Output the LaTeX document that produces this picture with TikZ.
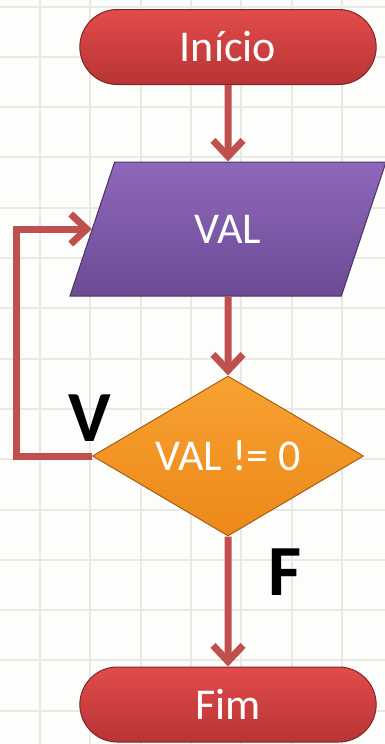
\documentclass[tikz,border=0pt]{standalone}
\usepackage{fontspec}
\setmainfont{Carlito}
\usetikzlibrary{shapes.geometric,shapes.misc,arrows.meta,calc}
\definecolor{flowred}{HTML}{C0504D}
\definecolor{termtop}{HTML}{E24B4B}
\definecolor{termbot}{HTML}{B83434}
\definecolor{iotop}{HTML}{8E68BA}
\definecolor{iobot}{HTML}{6C4B95}
\definecolor{dectop}{HTML}{F8A232}
\definecolor{decbot}{HTML}{EC8818}
\definecolor{gridgray}{HTML}{E8E8E5}
\definecolor{paper}{HTML}{FDFDFB}
\begin{document}
\begin{tikzpicture}[x=1pt, y=1pt, >={Straight Barb[length=16pt,width=30pt]},
  terminal/.style={rounded rectangle, draw=termbot!70!black, line width=1pt, top color=termtop, bottom color=termbot, minimum width=303pt, minimum height=75pt, text=white, font=\fontsize{44}{50}\selectfont},
  flow/.style={->, draw=flowred, line width=7pt, miter limit=10},
  mark label/.style={font=\fontsize{72}{80}\selectfont\bfseries, text=black}]
  % Background
  \fill[paper] (0,0) rectangle (385,-744);
  \useasboundingbox (0,0) rectangle (385,-744);
  \foreach \gx in {0,...,6}
    \draw[gridgray, line width=2pt] ({40+50.3*\gx},0) -- ++(0,-744);
  \foreach \gy in {0,...,14}
    \draw[gridgray, line width=2pt] (0,{-6.5-50.3*\gy}) -- ++(385,0);
  % Nodes
  \node[terminal](ini) at (228,-47) {Início};
  \node[trapezium, trapezium left angle=65, trapezium right angle=115, trapezium stretches=true, minimum width=317pt, minimum height=134pt, inner sep=0pt, draw=iobot!70!black, line width=1pt, top color=iotop, bottom color=iobot, text=white, font=\fontsize{44}{50}\selectfont](val) at (228,-229) {VAL};
  \node[diamond, aspect=1.7, minimum width=271pt, minimum height=160pt, inner sep=0pt, draw=decbot!70!black, line width=1pt, top color=dectop, bottom color=decbot, text=white, font=\fontsize{44}{50}\selectfont](dec) at (228,-456) {VAL != 0};
  \node[terminal](fim) at (228,-704.5) {Fim};
  \node[mark label](v) at (90,-418) {V};
  \node[mark label](f) at (285,-572) {F};
  % Edges
  \draw[flow](ini)--(val);
  \draw[flow](val)--(dec);
  \draw[flow](dec)--(fim);
  \draw[flow](dec.west)--++(-76,0)|-(val.west);
\end{tikzpicture}
\end{document}
